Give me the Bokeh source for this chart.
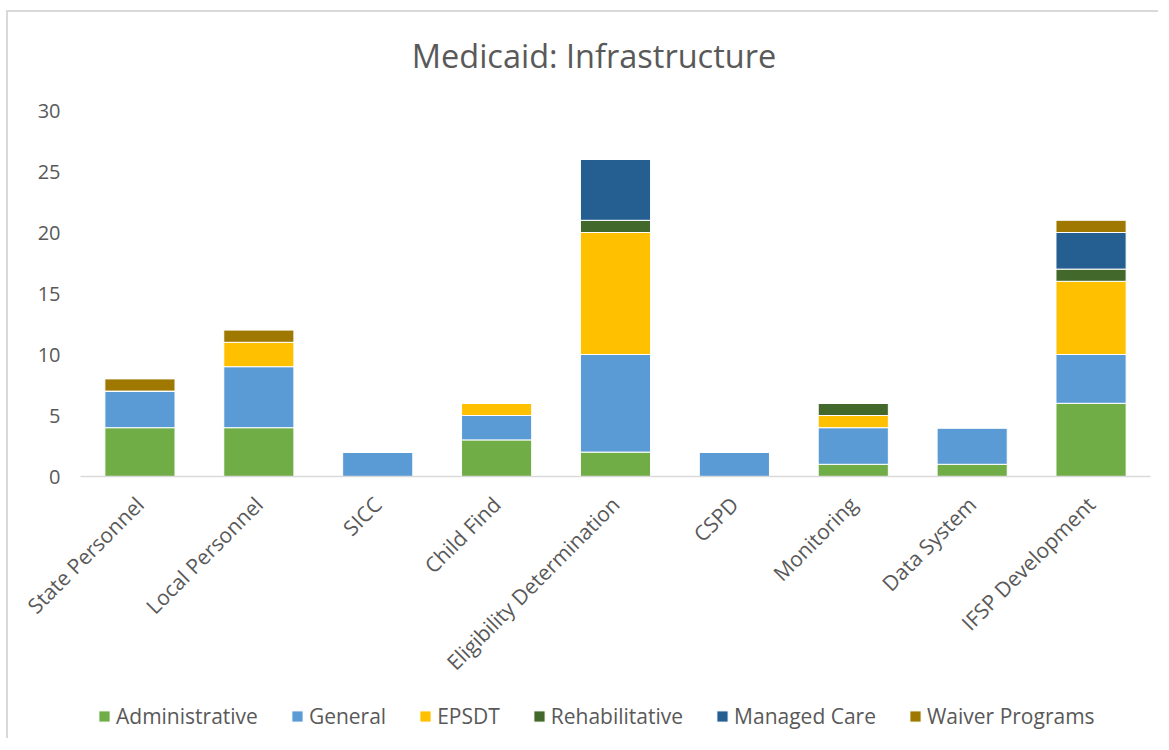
from math import pi
from bokeh.plotting import figure
from bokeh.layouts import column
from bokeh.models import Range1d, FactorRange, FixedTicker, Legend, LegendItem, ColumnDataSource, Label
from bokeh.embed import file_html
from bokeh.resources import INLINE

categories = ["State Personnel", "Local Personnel", "SICC", "Child Find",
              "Eligibility Determination", "CSPD", "Monitoring", "Data System",
              "IFSP Development"]
series_names = ["Administrative", "General", "EPSDT", "Rehabilitative",
                "Managed Care", "Waiver Programs"]
administrative = [4, 4, 0, 3, 2, 0, 1, 1, 6]
general = [3, 5, 2, 2, 8, 2, 3, 3, 4]
epsdt = [0, 2, 0, 1, 10, 0, 1, 0, 6]
rehabilitative = [0, 0, 0, 0, 1, 0, 1, 0, 1]
managed_care = [0, 0, 0, 0, 5, 0, 0, 0, 3]
waiver_programs = [1, 1, 0, 0, 0, 0, 0, 0, 1]
y_ticks = [0, 5, 10, 15, 20, 25, 30]
title_text = "Medicaid: Infrastructure"

colors = ["#70AD47", "#5B9BD5", "#FFC000", "#43682B", "#255E91", "#9E7800"]
keys = ["administrative", "general", "epsdt", "rehabilitative", "managed_care", "waiver"]

source = ColumnDataSource(dict(
    cat=categories, administrative=administrative, general=general, epsdt=epsdt,
    rehabilitative=rehabilitative, managed_care=managed_care, waiver=waiver_programs))

FONT = "Open Sans"
TXT = "#595959"
W = 1152
LEFT = 72
RIGHT = 10

# title strip (its frame is aligned with the chart frame by the column layout)
tf = figure(width=W, height=78, x_range=Range1d(LEFT, W - RIGHT), y_range=Range1d(0, 78),
            output_backend="svg", toolbar_location=None,
            x_axis_location=None, y_axis_location=None,
            min_border_left=LEFT, min_border_right=RIGHT, min_border_top=0, min_border_bottom=0)
tf.grid.grid_line_color = None
tf.outline_line_color = None
tf.add_layout(Label(x=585.5, y=35, text=title_text, text_font=FONT,
                    text_font_size="32.5px", text_color=TXT,
                    text_align="center", text_baseline="middle"))

# main chart
p = figure(width=W, height=610, x_range=FactorRange(*categories),
           y_range=Range1d(0, 30), output_backend="svg", toolbar_location=None,
           min_border_left=LEFT, min_border_right=RIGHT, min_border_top=20,
           min_border_bottom=224)

p.vbar_stack(keys, x="cat", width=0.59, source=source, color=colors,
             line_color="white", line_width=1)

p.xgrid.grid_line_color = None
p.ygrid.grid_line_color = None
p.outline_line_color = None

p.yaxis.ticker = FixedTicker(ticks=y_ticks)
p.yaxis.axis_line_color = None
p.yaxis.major_tick_line_color = None
p.yaxis.minor_tick_line_color = None
p.yaxis.major_label_text_font = FONT
p.yaxis.major_label_text_font_size = "20px"
p.yaxis.major_label_text_color = TXT
p.yaxis.major_label_standoff = 14

p.xaxis.axis_line_color = "#D9D9D9"
p.xaxis.axis_line_width = 1.5
p.xaxis.major_tick_line_color = None
p.xaxis.minor_tick_line_color = None
p.xaxis.major_label_orientation = pi / 4
p.xaxis.major_label_text_font = FONT
p.xaxis.major_label_text_font_size = "21px"
p.xaxis.major_label_text_color = TXT
p.xaxis.major_label_standoff = 18

# legend strip (bars lie outside its visible y range, only the legend shows)
lf = figure(width=W, height=40, x_range=FactorRange(*categories),
            y_range=Range1d(100, 101), output_backend="svg", toolbar_location=None,
            x_axis_location=None, y_axis_location=None,
            min_border_left=LEFT, min_border_right=RIGHT, min_border_top=0, min_border_bottom=0)
lr = lf.vbar_stack(keys, x="cat", width=0.59, source=source, color=colors,
                   line_color="white", line_width=1)
lf.grid.grid_line_color = None
lf.outline_line_color = None

legend = Legend(items=[LegendItem(label=n, renderers=[r]) for n, r in zip(series_names, lr)],
                orientation="horizontal", location=(17, 10),
                glyph_width=14, glyph_height=14, label_standoff=5, spacing=32,
                label_text_font=FONT, label_text_font_size="21px", label_text_color=TXT,
                border_line_color=None, background_fill_alpha=0, padding=4, margin=0)
lf.add_layout(legend, "center")

layout = column(tf, p, lf, spacing=0, margin=(12, 0, 0, 8),
                styles={"box-shadow": "-2px -2px 0 0 #D9D9D9"})

open("out.html", "w").write(file_html(layout, INLINE))
